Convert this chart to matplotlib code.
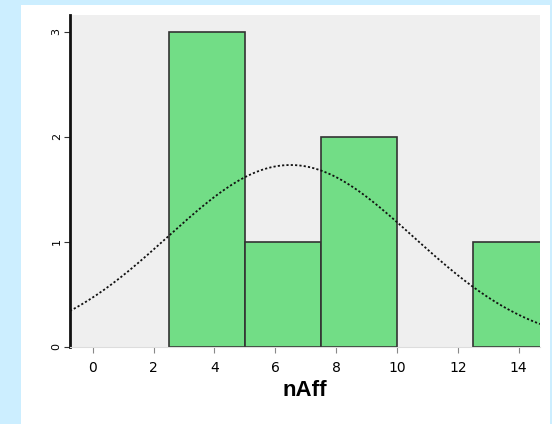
import numpy as np
import matplotlib
matplotlib.use("Agg")
import matplotlib.pyplot as plt
from matplotlib.patches import Rectangle

# histogram bins (nAff) and counts
bin_edges = [2.5, 5.0, 7.5, 10.0, 12.5, 15.0]
counts = [3, 1, 2, 0, 1]

curve_mean = 6.5
curve_sd = 4.03

x_ticks = [0, 2, 4, 6, 8, 10, 12, 14]
y_ticks = [0, 1, 2, 3]

fig = plt.figure(figsize=(5.52, 4.24), dpi=100)
fig.patch.set_facecolor("#cceeff")
panel = Rectangle((21 / 552, 0), 529 / 552, 419 / 424,
                  transform=fig.transFigure, facecolor="white",
                  edgecolor="none", zorder=-5)
fig.add_artist(panel)

ax = fig.add_axes([70 / 552, 77 / 424, 470 / 552, 332 / 424])
ax.set_zorder(2)
ax.set_facecolor("#efefef")

lefts = bin_edges[:-1]
widths = np.diff(bin_edges)
edges = ["#333333" if c > 0 else "none" for c in counts]
ax.bar(lefts, counts, width=widths, align="edge", color="#72dd86",
       edgecolor=edges, linewidth=1.2, zorder=2)

# normal curve scaled to counts
n = sum(counts)
bw = widths[0]
xs = np.linspace(-0.75, 14.7, 300)
ys = n * bw * np.exp(-0.5 * ((xs - curve_mean) / curve_sd) ** 2) / (curve_sd * np.sqrt(2 * np.pi))
ax.plot(xs, ys, color="#111111", linestyle=(0, (1.2, 1.2)), linewidth=1.3, zorder=3)

ax.set_xlim(-0.75, 14.7)
ax.set_ylim(0, 3.16)
ax.set_xticks(x_ticks)
ax.set_yticks(y_ticks)
ax.set_yticklabels([str(v) for v in y_ticks], rotation=90, va="center")
ax.tick_params(axis="x", length=4, color="#888888", labelsize=10, pad=6)
ax.tick_params(axis="y", length=4, color="#333333", labelsize=8, pad=2)

for side in ["top", "right"]:
    ax.spines[side].set_visible(False)
ax.spines["bottom"].set_color("#dddddd")
ax.spines["left"].set_color("#111111")
ax.spines["left"].set_linewidth(2)

ax.set_xlabel("nAff", fontsize=16, fontweight="bold", family="Liberation Sans", labelpad=4)

fig.savefig("out.png", dpi=100, facecolor=fig.get_facecolor())
